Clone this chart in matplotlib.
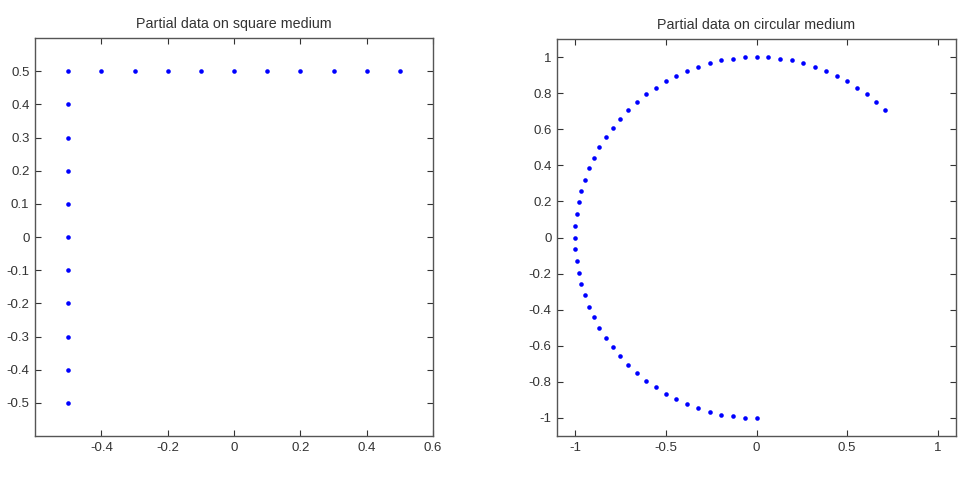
import matplotlib.pyplot as plt

plt.rcParams['font.family'] = ['Liberation Sans', 'DejaVu Sans']

# square medium: left side then top side
sq_x = [-0.5, -0.5, -0.5, -0.5, -0.5, -0.5, -0.5, -0.5, -0.5, -0.5, -0.5,
        -0.4, -0.3, -0.2, -0.1, 0.0, 0.1, 0.2, 0.3, 0.4, 0.5]
sq_y = [-0.5, -0.4, -0.3, -0.2, -0.1, 0.0, 0.1, 0.2, 0.3, 0.4, 0.5,
        0.5, 0.5, 0.5, 0.5, 0.5, 0.5, 0.5, 0.5, 0.5, 0.5]

circ_x = [0.707, 0.659, 0.609, 0.556, 0.5, 0.442, 0.383, 0.321, 0.259, 0.195, 0.131, 0.065,
          0.0, -0.065, -0.131, -0.195, -0.259, -0.321, -0.383, -0.442, -0.5, -0.556, -0.609,
          -0.659, -0.707, -0.752, -0.793, -0.831, -0.866, -0.897, -0.924, -0.947, -0.966,
          -0.981, -0.991, -0.998, -1.0, -0.998, -0.991, -0.981, -0.966, -0.947, -0.924,
          -0.897, -0.866, -0.831, -0.793, -0.752, -0.707, -0.659, -0.609, -0.556, -0.5,
          -0.442, -0.383, -0.321, -0.259, -0.195, -0.131, -0.065, 0.0]
circ_y = [0.707, 0.752, 0.793, 0.831, 0.866, 0.897, 0.924, 0.947, 0.966, 0.981, 0.991, 0.998,
          1.0, 0.998, 0.991, 0.981, 0.966, 0.947, 0.924, 0.897, 0.866, 0.831, 0.793,
          0.752, 0.707, 0.659, 0.609, 0.556, 0.5, 0.442, 0.383, 0.321, 0.259,
          0.195, 0.131, 0.065, 0.0, -0.065, -0.131, -0.195, -0.259, -0.321, -0.383,
          -0.442, -0.5, -0.556, -0.609, -0.659, -0.707, -0.752, -0.793, -0.831, -0.866,
          -0.897, -0.924, -0.947, -0.966, -0.981, -0.991, -0.998, -1.0]

sq_xticks = [-0.4, -0.2, 0, 0.2, 0.4, 0.6]
sq_yticks = [-0.5, -0.4, -0.3, -0.2, -0.1, 0, 0.1, 0.2, 0.3, 0.4, 0.5]
circ_xticks = [-1, -0.5, 0, 0.5, 1]
circ_yticks = [-1, -0.8, -0.6, -0.4, -0.2, 0, 0.2, 0.4, 0.6, 0.8, 1]

fig = plt.figure(figsize=(9.63, 4.92), dpi=100)
ax1 = fig.add_axes([35 / 963, 56 / 492, 398 / 963, 398 / 492])
ax2 = fig.add_axes([557 / 963, 56 / 492, 399 / 963, 397 / 492])


def style(ax, title, xticks, yticks, lim):
    ax.set_xlim(-lim, lim)
    ax.set_ylim(-lim, lim)
    ax.set_xticks(xticks)
    ax.set_yticks(yticks)
    ax.set_xticklabels(['%g' % t for t in xticks])
    ax.set_yticklabels(['%g' % t for t in yticks])
    ax.tick_params(direction='in', top=True, right=True, length=4, width=0.8,
                   labelsize=9.5, colors='#333333', pad=4)
    for s in ax.spines.values():
        s.set_color('#555555')
        s.set_linewidth(1.0)
    ax.set_title(title, fontsize=10.3, color='#333333', pad=7.5)


ax1.plot(sq_x, sq_y, 'o', color='blue', markersize=3.3, markeredgewidth=0)
style(ax1, 'Partial data on square medium', sq_xticks, sq_yticks, 0.6)

ax2.plot(circ_x, circ_y, 'o', color='blue', markersize=3.3, markeredgewidth=0)
style(ax2, 'Partial data on circular medium', circ_xticks, circ_yticks, 1.1)

plt.savefig('out.png', dpi=100)
